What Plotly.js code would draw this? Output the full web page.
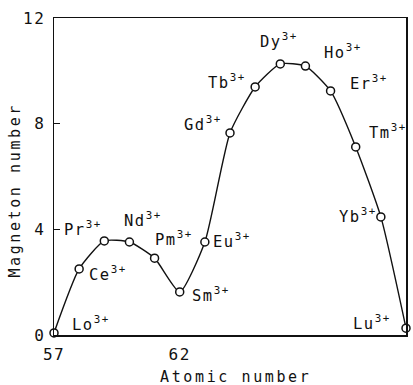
<!DOCTYPE html>
<html>
<head>
<meta charset="utf-8">
<script src="https://cdn.plot.ly/plotly-3.0.1.min.js"></script>
<style>
  html, body { margin: 0; padding: 0; background: #fff; }
  #chart { width: 413px; height: 385px; }
  .main-svg text { letter-spacing: 1.5px; }
  /* the two axis captions are set wider than the ion labels */
  .main-svg g.annotation[data-index="15"] text,
  .main-svg g.annotation[data-index="16"] text { letter-spacing: 2.6px; }
</style>
</head>
<body>
<div id="chart"></div>
<script>
// Magneton number of the trivalent lanthanide ions across the series
const atomicNumber = [57, 58, 59, 60, 61, 62, 63, 64, 65, 66, 67, 68, 69, 70, 71];
const magneton = [0.08, 2.5, 3.56, 3.52, 2.91, 1.63, 3.52, 7.65, 9.39, 10.26, 10.18, 9.24, 7.12, 4.47, 0.26];

// Ion labels and where each one sits on the axes
const ionNames = ['Lo', 'Ce', 'Pr', 'Nd', 'Pm', 'Sm', 'Eu', 'Gd', 'Tb', 'Dy', 'Ho', 'Er', 'Tm', 'Yb', 'Lu'];
const ionCharge = '3+';
const labelX = [58.47, 59.15, 58.17, 60.52, 61.77, 63.26, 64.06, 62.91, 63.90, 65.95, 68.48, 69.53, 70.27, 69.11, 69.63];
const labelY = [0.44, 2.31, 4.03, 4.39, 3.64, 1.55, 3.56, 7.99, 9.58, 11.13, 10.75, 9.56, 7.72, 4.54, 0.49];

const xTicks = [57, 62, 71];
const yTicks = [0, 4, 8, 12];
const xTitle = 'Atomic number';
const yTitle = 'Magneton number';

const ink = '#111';
const fontFamily = '"DejaVu Sans Mono", monospace';

const trace = {
  x: atomicNumber,
  y: magneton,
  mode: 'lines+markers',
  type: 'scatter',
  line: { color: ink, width: 1.4, shape: 'spline', smoothing: 0.55 },
  marker: { symbol: 'circle', size: 8, color: '#fff', line: { color: ink, width: 1.5 } },
  cliponaxis: false,
  hoverinfo: 'skip'
};

const annotations = ionNames.map((name, i) => ({
  x: labelX[i],
  y: labelY[i],
  xref: 'x',
  yref: 'y',
  text: name + '<sup>' + ionCharge + '</sup>',
  showarrow: false,
  xanchor: 'center',
  yanchor: 'middle',
  font: { family: fontFamily, size: 15.5, color: ink }
}));

// axis captions, placed just outside the frame
annotations.push({
  x: 0.517, y: -0.133, xref: 'paper', yref: 'paper',
  text: xTitle, showarrow: false, xanchor: 'center', yanchor: 'middle',
  font: { family: fontFamily, size: 15, color: ink }
});
annotations.push({
  x: -0.111, y: 0.457, xref: 'paper', yref: 'paper',
  text: yTitle, textangle: -90, showarrow: false, xanchor: 'center', yanchor: 'middle',
  font: { family: fontFamily, size: 15, color: ink }
});

const layout = {
  width: 413,
  height: 385,
  margin: { l: 54, r: 7, t: 18, b: 50 },
  paper_bgcolor: '#fff',
  plot_bgcolor: '#fff',
  showlegend: false,
  font: { family: fontFamily, size: 16, color: ink },
  xaxis: {
    range: [57, 71],
    tickvals: xTicks,
    ticktext: xTicks.map(String),
    ticks: '',
    ticklabelstandoff: 4,
    tickfont: { family: fontFamily, size: 16, color: ink },
    showgrid: false,
    zeroline: false,
    showline: true,
    linecolor: ink,
    linewidth: 1.5,
    mirror: true
  },
  yaxis: {
    range: [0, 12],
    tickvals: yTicks,
    ticktext: yTicks.map(String),
    ticks: 'inside',
    ticklen: 6,
    tickwidth: 1.2,
    tickcolor: ink,
    ticklabelstandoff: 4,
    tickfont: { family: fontFamily, size: 16, color: ink },
    showgrid: false,
    zeroline: false,
    showline: true,
    linecolor: ink,
    linewidth: 1.5,
    mirror: true
  },
  annotations: annotations
};

Plotly.newPlot('chart', [trace], layout, { staticPlot: true, displayModeBar: false });
</script>
</body>
</html>
